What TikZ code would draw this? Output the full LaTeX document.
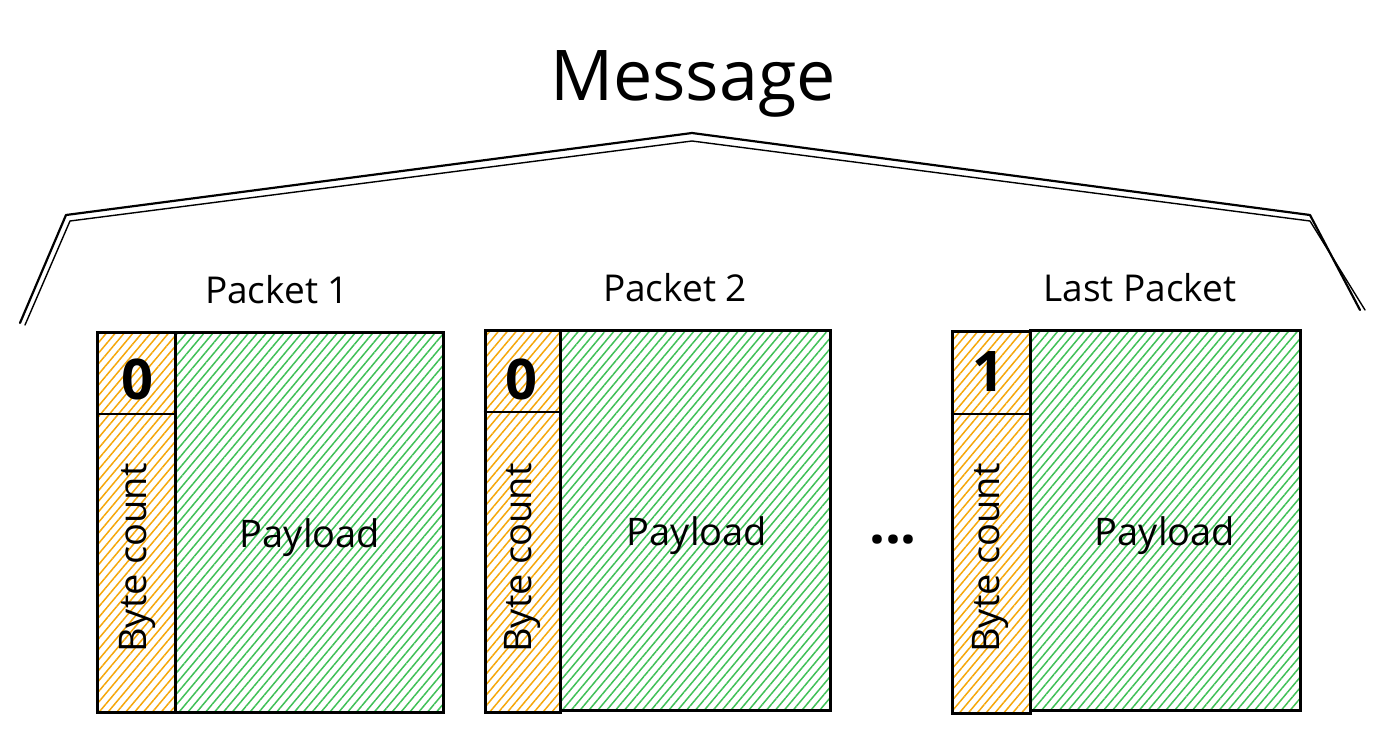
\documentclass[tikz,border=0pt]{standalone}
\usepackage{fontspec}
\setmainfont{Open Sans}
\usetikzlibrary{patterns.meta}
\definecolor{hatchorange}{HTML}{F5A70A}
\definecolor{hatchgreen}{HTML}{40C057}
\tikzset{
  px/.style={x=0.5pt,y=-0.5pt},
  bcbox/.style={draw=black, line width=1.5pt, inner sep=0pt,
    pattern={Lines[angle=50,distance=3.4pt,line width=0.75pt]}, pattern color=hatchorange},
  plbox/.style={draw=black, line width=1.5pt, inner sep=0pt,
    pattern={Lines[angle=50,distance=3.4pt,line width=0.75pt]}, pattern color=hatchgreen},
  divline/.style={line width=1.1pt},
  flagtxt/.style={font=\fontsize{28}{30}\selectfont\bfseries},
  bctxt/.style={font=\fontsize{19}{21}\selectfont, rotate=90},
  pltxt/.style={font=\fontsize{19}{21}\selectfont},
  titletxt/.style={font=\fontsize{18.5}{21}\selectfont},
  msgtxt/.style={font=\fontsize{35}{40}\selectfont},
  sketch/.style={line width=1.1pt, line cap=round, line join=round},
}
\begin{document}
\begin{tikzpicture}[px]
\useasboundingbox (0,0) rectangle (1382,735);
% title
\node[msgtxt] (msg) at (693,84) {Message};
% roof lines
\coordinate (l1) at (20,323);
\coordinate (l2) at (66,215);
\coordinate (top) at (692,133);
\coordinate (r2) at (1310,215);
\coordinate (r1) at (1360,310);
\draw[sketch] (l1) -- (l2) -- (top) -- (r2) -- (r1);
\draw[sketch, line width=0.7pt] ([xshift=2.5,yshift=-1]l1) -- ([xshift=2,yshift=-3]l2) -- ([yshift=-4]top) -- ([yshift=-3]r2) -- ([xshift=2.5,yshift=0]r1);

% packet 1
\node[bcbox, minimum width=39pt, minimum height=190pt] (bc1) at (136,522) {};
\node[plbox, minimum width=134pt, minimum height=190pt] (pl1) at (309,522) {};
\draw[divline] (bc1.west |- 0,414) -- (bc1.east |- 0,414);
\node[flagtxt] (f1) at (137,379) {0};
\node[bctxt] (b1) at (137,558) {Byte count};
\node[pltxt] (p1) at (310,538) {Payload};
\node[titletxt] (t1) at (277,290) {Packet 1};

% packet 2
\node[bcbox, minimum width=37.5pt, minimum height=191pt] (bc2) at (522.5,521) {};
\node[plbox, minimum width=135pt, minimum height=190pt] (pl2) at (695,520) {};
\draw[divline] (bc2.west |- 0,412) -- (bc2.east |- 0,412);
\node[flagtxt] (f2) at (521,379) {0};
\node[bctxt] (b2) at (522,558) {Byte count};
\node[pltxt] (p2) at (697,536) {Payload};
\node[titletxt] (t2) at (675,288) {Packet 2};

% dots
\node[font=\fontsize{28}{30}\selectfont\bfseries] (dots) at (893,540) {...};

% last packet
\node[bcbox, minimum width=39pt, minimum height=191pt] (bc3) at (991,522) {};
\node[plbox, minimum width=135pt, minimum height=190pt] (pl3) at (1165,520) {};
\draw[divline] (bc3.west |- 0,414) -- (bc3.east |- 0,414);
\node[flagtxt] (f3) at (988,372) {1};
\node[bctxt] (b3) at (990,558) {Byte count};
\node[pltxt] (p3) at (1165,536) {Payload};
\node[titletxt] (t3) at (1140,288) {Last Packet};
\end{tikzpicture}
\end{document}
